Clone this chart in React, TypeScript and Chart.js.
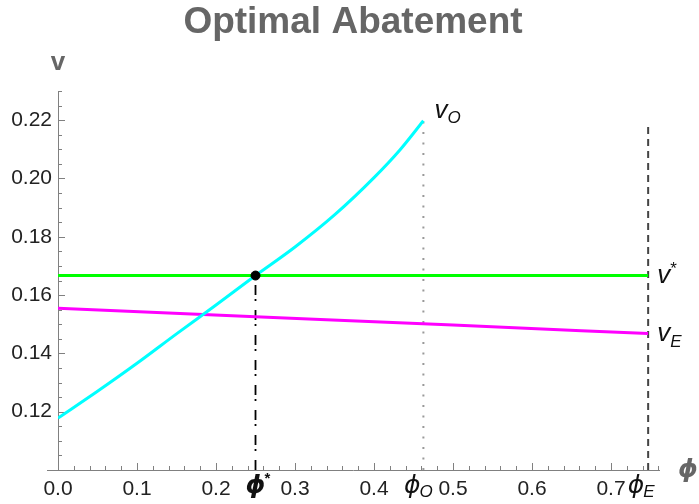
import React, { useEffect, useRef } from 'react';
import Chart from 'chart.js/auto';

const chartTitle = 'Optimal Abatement';
const xRange = [0, 0.762];
const yRange = [0.1, 0.23];
const xMinorStep = 0.02;
const yMinorStep = 0.005;
const xMajorTicks = [0, 0.1, 0.2, 0.3, 0.4, 0.5, 0.6, 0.7];
const yMajorTicks = [0.12, 0.14, 0.16, 0.18, 0.2, 0.22];

const phiStar = 0.25;
const phiO = 0.4625;
const phiE = 0.747;
const vStar = 0.1667;
const vOTop = 0.22;
const dashedTop = 0.2185;

const vOPhi = [0, 0.05, 0.1, 0.15, 0.2, 0.25, 0.3, 0.35, 0.4, 0.4325, 0.4625];
const vOValues = [0.1178, 0.127, 0.1366, 0.1467, 0.1566, 0.1667, 0.1765, 0.1875, 0.2003, 0.2097, 0.2198];
const vEPhi = [0, 0.25, 0.5, 0.747];
const vEValues = [0.1555, 0.1526, 0.1497, 0.1468];

const SANS = '"Liberation Sans", Arial, sans-serif';
const GREEK = '"DejaVu Sans", "Liberation Sans", sans-serif';

const near = (v: number, arr: number[]) => arr.some((a) => Math.abs(a - v) < 1e-6);

function buildTicks(min: number, max: number, step: number) {
  const out: { value: number }[] = [];
  const n = Math.round((max - min) / step);
  for (let i = 0; i <= n + 1; i++) {
    const v = Math.round((min + i * step) * 10000) / 10000;
    if (v <= max + 1e-9) out.push({ value: v });
  }
  return out;
}

const overlay = {
  id: 'overlay',
  beforeDatasetsDraw(chart: any) {
    const { ctx, chartArea, scales } = chart;
    const xs = scales.x;
    const ys = scales.y;
    const x0 = xs.getPixelForValue(0);
    const yb = ys.getPixelForValue(yRange[0]);
    ctx.save();
    ctx.strokeStyle = '#808080';
    ctx.lineWidth = 1;
    ctx.beginPath();
    ctx.moveTo(chartArea.left - 11, Math.round(yb) + 0.5);
    ctx.lineTo(chartArea.right, Math.round(yb) + 0.5);
    ctx.moveTo(Math.round(x0) + 0.5, chartArea.top);
    ctx.lineTo(Math.round(x0) + 0.5, yb);
    xs.ticks.forEach((t: any) => {
      const px = Math.round(xs.getPixelForValue(t.value)) + 0.5;
      const len = near(t.value, xMajorTicks) ? 7 : 4;
      ctx.moveTo(px, yb);
      ctx.lineTo(px, yb - len);
    });
    ys.ticks.forEach((t: any) => {
      const py = Math.round(ys.getPixelForValue(t.value)) + 0.5;
      const len = near(t.value, yMajorTicks) ? 7 : 4;
      ctx.moveTo(x0, py);
      ctx.lineTo(x0 + len, py);
    });
    ctx.stroke();
    ctx.restore();
  },
  afterDatasetsDraw(chart: any) {
    const { ctx, scales } = chart;
    const xs = scales.x;
    const ys = scales.y;
    ctx.save();
    ctx.textBaseline = 'alphabetic';

    // title
    ctx.fillStyle = '#666';
    ctx.font = `bold 37px ${SANS}`;
    ctx.textAlign = 'center';
    ctx.fillText(chartTitle, 353, 33);

    const withSub = (x: number, y: number, main: string, mainFont: string, sub: string, subFont: string, subDy: number, color: string) => {
      ctx.fillStyle = color;
      ctx.font = mainFont;
      ctx.textAlign = 'left';
      ctx.fillText(main, x, y);
      const w = ctx.measureText(main).width;
      ctx.font = subFont;
      ctx.fillText(sub, x + w, y + subDy);
    };

    // curve labels
    const pxO = xs.getPixelForValue(phiO);
    const pxE = xs.getPixelForValue(phiE);
    const vFont = `italic 26px ${SANS}`;
    const subF = `italic 17px ${SANS}`;
    withSub(pxO + 11, ys.getPixelForValue(vOTop) - 2, 'v', vFont, 'O', subF, 5, '#111');
    withSub(pxE + 9, ys.getPixelForValue(vStar) + 7, 'v', vFont, '*', `17px ${SANS}`, -9, '#111');
    withSub(pxE + 9, ys.getPixelForValue(vEValues[vEValues.length - 1]) + 7, 'v', vFont, 'E', subF, 6, '#111');

    // phi tick labels
    const base = 493;
    const pxS = xs.getPixelForValue(phiStar);
    ctx.fillStyle = '#111';
    ctx.font = `italic bold 25px ${GREEK}`;
    ctx.textAlign = 'center';
    ctx.fillText('ϕ', pxS, base);
    ctx.textAlign = 'left';
    ctx.font = `bold 15px ${SANS}`;
    ctx.fillText('*', pxS + 9, base - 10);

    ctx.font = `italic 25px ${GREEK}`;
    ctx.textAlign = 'right';
    ctx.fillText('ϕ', pxO - 3, base);
    ctx.textAlign = 'left';
    ctx.font = subF;
    ctx.fillText('O', pxO - 4, base + 4);

    ctx.font = `italic 25px ${GREEK}`;
    ctx.textAlign = 'right';
    ctx.fillText('ϕ', pxE - 4, base);
    ctx.textAlign = 'left';
    ctx.font = subF;
    ctx.fillText('E', pxE - 5, base + 4);

    // axis labels
    ctx.fillStyle = '#666';
    ctx.textAlign = 'center';
    ctx.font = `bold 26px ${SANS}`;
    ctx.fillText('v', xs.getPixelForValue(0), 70);
    ctx.font = `italic bold 25px ${GREEK}`;
    ctx.fillText('ϕ', 688, 477);
    ctx.restore();
  },
};

export default function App() {
  const ref = useRef<HTMLCanvasElement>(null);
  useEffect(() => {
    document.body.style.margin = '0';
    const canvas = ref.current!;
    const chart = new Chart(canvas, {
      type: 'line',
      data: {
        datasets: [
          {
            label: 'dot',
            data: [{ x: phiStar, y: vStar }],
            showLine: false,
            pointRadius: 4.5,
            pointBackgroundColor: '#000',
            pointBorderColor: '#000',
            order: 0,
          },
          {
            label: 'vO',
            data: vOPhi.map((x, i) => ({ x, y: vOValues[i] })),
            borderColor: '#00FFFF',
            borderWidth: 3,
            pointRadius: 0,
            cubicInterpolationMode: 'monotone',
            order: 1,
          },
          {
            label: 'vStar',
            data: [{ x: 0, y: vStar }, { x: phiE, y: vStar }],
            borderColor: '#00FF00',
            borderWidth: 3,
            pointRadius: 0,
            order: 2,
          },
          {
            label: 'vE',
            data: vEPhi.map((x, i) => ({ x, y: vEValues[i] })),
            borderColor: '#FF00FF',
            borderWidth: 3,
            pointRadius: 0,
            cubicInterpolationMode: 'monotone',
            order: 2,
          },
          {
            label: 'phiStar',
            data: [{ x: phiStar, y: yRange[0] }, { x: phiStar, y: vStar }],
            borderColor: '#000',
            borderWidth: 1.8,
            borderDash: [10, 9, 2, 4],
            pointRadius: 0,
            order: 3,
          },
          {
            label: 'phiO',
            data: [{ x: phiO, y: yRange[0] }, { x: phiO, y: vOTop }],
            borderColor: '#999',
            borderWidth: 2,
            borderDash: [2, 8.5],
            pointRadius: 0,
            order: 3,
          },
          {
            label: 'phiE',
            data: [{ x: phiE, y: yRange[0] }, { x: phiE, y: dashedTop }],
            borderColor: '#444',
            borderWidth: 2,
            borderDash: [7, 5],
            pointRadius: 0,
            order: 3,
          },
        ],
      },
      options: {
        animation: false,
        responsive: false,
        events: [],
        layout: { padding: { top: 91, right: 39, bottom: 0, left: 0 } },
        plugins: {
          legend: { display: false },
          tooltip: { enabled: false },
          title: { display: false },
        },
        scales: {
          x: {
            type: 'linear',
            min: xRange[0],
            max: xRange[1],
            grid: { display: false, drawTicks: false },
            border: { display: false },
            afterBuildTicks: (s: any) => {
              s.ticks = buildTicks(xRange[0], xRange[1], xMinorStep);
            },
            afterFit: (s: any) => {
              s.height = 34;
            },
            ticks: {
              autoSkip: false,
              maxRotation: 0,
              padding: 7,
              color: '#222',
              font: { family: SANS, size: 21 },
              callback: (v: any) => (near(Number(v), xMajorTicks) ? Number(v).toFixed(1) : ''),
            },
          },
          y: {
            type: 'linear',
            min: yRange[0],
            max: yRange[1],
            grid: { display: false, drawTicks: false },
            border: { display: false },
            afterBuildTicks: (s: any) => {
              s.ticks = buildTicks(yRange[0], yRange[1], yMinorStep);
            },
            afterFit: (s: any) => {
              s.width = 58;
            },
            ticks: {
              autoSkip: false,
              padding: 6,
              color: '#222',
              font: { family: SANS, size: 21 },
              callback: (v: any) => (near(Number(v), yMajorTicks) ? Number(v).toFixed(2) : ''),
            },
          },
        },
      },
      plugins: [overlay],
    });
    return () => chart.destroy();
  }, []);
  return (
    <div style={{ width: 699, height: 504 }}>
      <canvas ref={ref} width={699} height={504} style={{ display: 'block' }} />
    </div>
  );
}
